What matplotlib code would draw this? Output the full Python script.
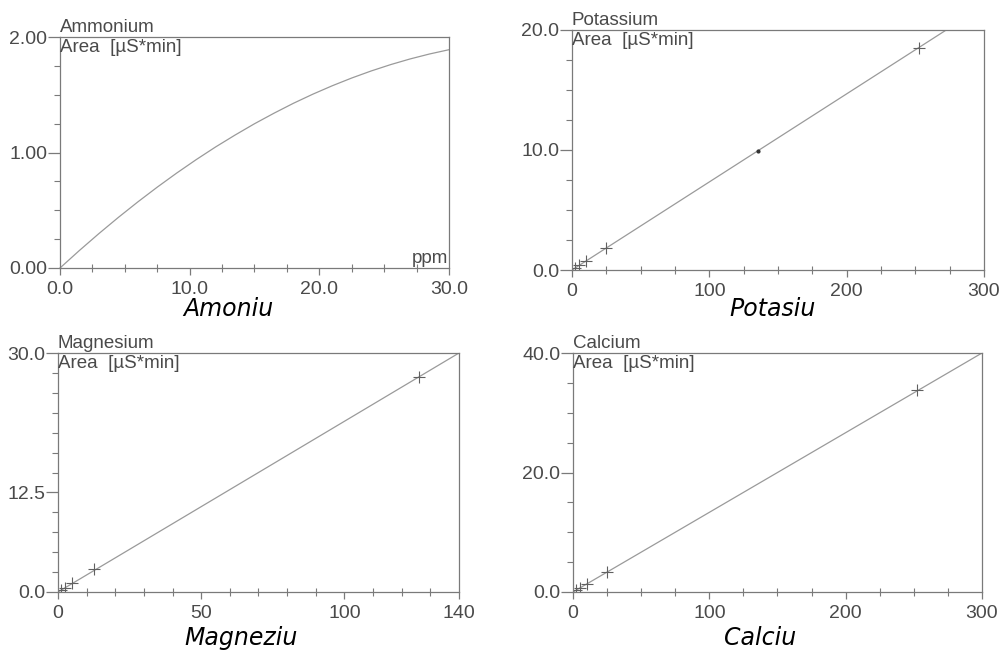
import matplotlib
matplotlib.use("Agg")
import matplotlib.pyplot as plt
from matplotlib.ticker import MultipleLocator, FixedLocator, FixedFormatter

# Ammonium calibration curve (quadratic fit), read as sampled points
nh4_x = [0, 1.5, 3, 4.5, 6, 7.5, 9, 10.5, 12, 13.5, 15, 16.5, 18, 19.5, 21,
         22.5, 24, 25.5, 27, 28.5, 30]
nh4_y = [0, 0.152, 0.298, 0.438, 0.572, 0.700, 0.822, 0.938, 1.048, 1.151,
         1.249, 1.340, 1.426, 1.505, 1.578, 1.645, 1.706, 1.761, 1.810, 1.853, 1.890]

# Potassium standards and linear fit
k_std_x = [2, 5, 10, 25, 252.5]
k_std_y = [0.15, 0.40, 0.75, 1.85, 18.5]
k_dot_x = [135.5]
k_dot_y = [9.95]
k_fit_x = [0, 272.5]
k_fit_y = [0, 20.0]

# Magnesium standards and linear fit
mg_std_x = [1, 2.5, 5, 12.5, 126]
mg_std_y = [0.2, 0.55, 1.1, 2.85, 27.0]
mg_fit_x = [0, 140]
mg_fit_y = [0, 30.0]

# Calcium standards and linear fit
ca_std_x = [2.5, 5, 10, 25, 252]
ca_std_y = [0.3, 0.65, 1.3, 3.35, 33.8]
ca_fit_x = [0, 300]
ca_fit_y = [0, 40.0]

panels = [
    dict(name="Ammonium", caption="Amoniu",
         rect=(60, 37, 449, 268), xlim=(0, 30), ylim=(0, 2.0),
         xmajor=[0, 10, 20, 30], xlabels=["0.0", "10.0", "20.0", "30.0"], xminor=2.5,
         ymajor=[0, 1, 2], ylabels=["0.00", "1.00", "2.00"], yminor=0.25,
         cap_xy=(228, 309)),
    dict(name="Potassium", caption="Potasiu",
         rect=(572, 30, 984, 270), xlim=(0, 300), ylim=(0, 20),
         xmajor=[0, 100, 200, 300], xlabels=["0", "100", "200", "300"], xminor=25,
         ymajor=[0, 10, 20], ylabels=["0.0", "10.0", "20.0"], yminor=2.5,
         cap_xy=(773, 309)),
    dict(name="Magnesium", caption="Magneziu",
         rect=(58, 353, 459, 592), xlim=(0, 140), ylim=(0, 30),
         xmajor=[0, 50, 100, 140], xlabels=["0", "50", "100", "140"], xminor=10,
         ymajor=[0, 12.5, 30], ylabels=["0.0", "12.5", "30.0"], yminor=2.5,
         cap_xy=(241, 638)),
    dict(name="Calcium", caption="Calciu",
         rect=(573, 353, 982, 592), xlim=(0, 300), ylim=(0, 40),
         xmajor=[0, 100, 200, 300], xlabels=["0", "100", "200", "300"], xminor=25,
         ymajor=[0, 20, 40], ylabels=["0.0", "20.0", "40.0"], yminor=5,
         cap_xy=(760, 638)),
]

W, H = 1003, 650
fig = plt.figure(figsize=(W / 100, H / 100), dpi=100)
fig.patch.set_facecolor("white")

TXT = "#4a4a4a"
AX = "#7a7a7a"
LINE = "#9a9a9a"
MARK = "#606060"
FAM = ["Liberation Sans", "DejaVu Sans"]
TICK_FS = 14
LABEL_FS = 13.5

axes = []
for p in panels:
    l, t, r, b = p["rect"]
    ax = fig.add_axes([l / W, 1 - b / H, (r - l) / W, (b - t) / H])
    ax.set_xlim(*p["xlim"])
    ax.set_ylim(*p["ylim"])
    for s in ax.spines.values():
        s.set_color(AX)
        s.set_linewidth(0.9)
    ax.xaxis.set_major_locator(FixedLocator(p["xmajor"]))
    ax.xaxis.set_major_formatter(FixedFormatter(p["xlabels"]))
    ax.yaxis.set_major_locator(FixedLocator(p["ymajor"]))
    ax.yaxis.set_major_formatter(FixedFormatter(p["ylabels"]))
    ax.xaxis.set_minor_locator(MultipleLocator(p["xminor"]))
    ax.yaxis.set_minor_locator(MultipleLocator(p["yminor"]))
    ax.tick_params(axis="x", which="major", direction="out", length=5, width=0.9,
                   color=AX, pad=4)
    ax.tick_params(axis="x", which="minor", direction="inout", length=6, width=0.8,
                   color=AX)
    ax.tick_params(axis="y", which="major", direction="out", length=9, width=0.9,
                   color=AX, pad=0)
    ax.tick_params(axis="y", which="minor", direction="out", length=4, width=0.8,
                   color=AX)
    for lab in ax.get_xticklabels() + ax.get_yticklabels():
        lab.set_fontfamily(FAM)
        lab.set_fontsize(TICK_FS)
        lab.set_color(TXT)
    ax.text(0.0, 1.003, p["name"], transform=ax.transAxes, ha="left", va="bottom",
            fontfamily=FAM, fontsize=LABEL_FS, color=TXT)
    ax.text(0.0, 0.99, "Area  [µS*min]", transform=ax.transAxes, ha="left", va="top",
            fontfamily=FAM, fontsize=LABEL_FS, color=TXT)
    fig.text(p["cap_xy"][0] / W, 1 - p["cap_xy"][1] / H, p["caption"],
             ha="center", va="center", fontfamily="DejaVu Sans", style="italic",
             fontsize=17, color="black")
    axes.append(ax)

ax_nh4, ax_k, ax_mg, ax_ca = axes

ax_nh4.plot(nh4_x, nh4_y, color=LINE, lw=0.9, clip_on=False)
ax_nh4.text(0.997, 0.005, "ppm", transform=ax_nh4.transAxes, ha="right", va="bottom",
            fontfamily=FAM, fontsize=LABEL_FS, color=TXT)

ax_k.plot(k_fit_x, k_fit_y, color=LINE, lw=0.9)
ax_k.plot(k_std_x, k_std_y, ls="none", marker="+", ms=8, mew=0.8, color=MARK)
ax_k.plot(k_dot_x, k_dot_y, ls="none", marker="o", ms=2, color="#333333")

ax_mg.plot(mg_fit_x, mg_fit_y, color=LINE, lw=0.9)
ax_mg.plot(mg_std_x, mg_std_y, ls="none", marker="+", ms=8, mew=0.8, color=MARK)

ax_ca.plot(ca_fit_x, ca_fit_y, color=LINE, lw=0.9)
ax_ca.plot(ca_std_x, ca_std_y, ls="none", marker="+", ms=8, mew=0.8, color=MARK)

fig.savefig("out.png", dpi=100, facecolor="white")
